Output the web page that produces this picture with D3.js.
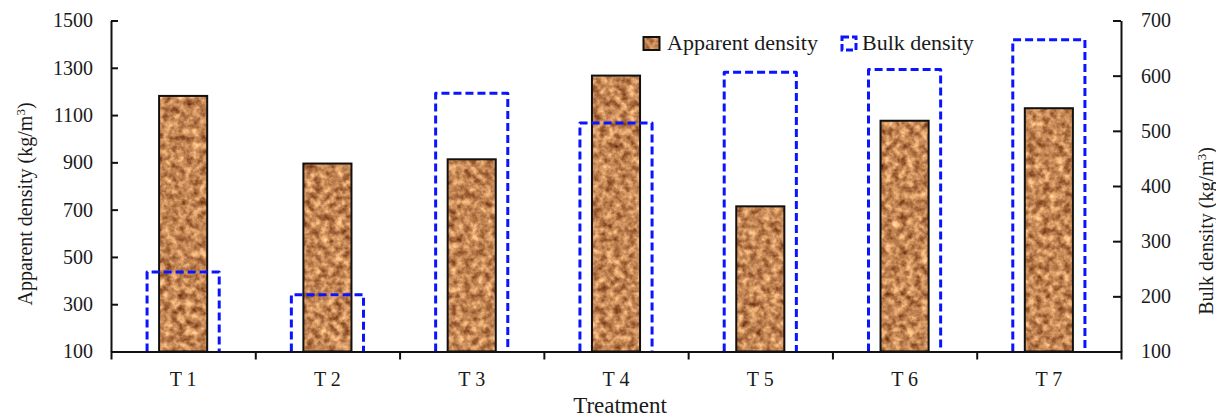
<!DOCTYPE html>
<html>
<head>
<meta charset="utf-8">
<script src="https://cdn.jsdelivr.net/npm/d3@7"></script>
<style>
  html, body { margin: 0; padding: 0; background: #fff; }
  svg { display: block; }
  text { font-family: "Liberation Serif", "Times New Roman", serif; fill: #1a1a1a; }
</style>
</head>
<body>
<svg id="chart" width="1216" height="417"></svg>
<script>
// ---- data ----
const categories = ["T 1", "T 2", "T 3", "T 4", "T 5", "T 6", "T 7"];
const apparentDensity = [1181, 895, 913, 1267, 714, 1076, 1129];
const bulkDensity = [244, 203, 568, 514, 606, 611, 665];
const leftTicks = [100, 300, 500, 700, 900, 1100, 1300, 1500];
const rightTicks = [100, 200, 300, 400, 500, 600, 700];
const seriesNames = ["Apparent density", "Bulk density"];

const svg = d3.select("#chart");
const pLeft = 111, pRight = 1121, pTop = 20.5, pBottom = 351.5;

const x = d3.scaleBand().domain(categories).range([pLeft, pRight]).paddingInner(0).paddingOuter(0);
const yL = d3.scaleLinear().domain([100, 1500]).range([pBottom, pTop]);
const yR = d3.scaleLinear().domain([100, 700]).range([pBottom, pTop]);

// texture filter
const defs = svg.append("defs");
const f = defs.append("filter").attr("id", "tex").attr("x", 0).attr("y", 0).attr("width", 1).attr("height", 1)
  .attr("color-interpolation-filters", "sRGB");
f.append("feTurbulence").attr("type", "fractalNoise").attr("baseFrequency", 0.14).attr("numOctaves", 3).attr("seed", 7).attr("result", "n");
f.append("feColorMatrix").attr("in", "n").attr("type", "matrix")
  .attr("values", "0.85 0 0 0 0.34  0.85 0 0 0 0.1  0.7 0 0 0 -0.02  0 0 0 0 1").attr("result", "c");
f.append("feComposite").attr("in", "c").attr("in2", "SourceGraphic").attr("operator", "in");

const barW = x.bandwidth() / 3;
const dashW = x.bandwidth() / 2;

// apparent density bars
const bars = svg.append("g");
bars.selectAll("rect.fill").data(apparentDensity).join("rect")
  .attr("class", "fill")
  .attr("x", (d, i) => x(categories[i]) + (x.bandwidth() - barW) / 2)
  .attr("y", d => yL(d))
  .attr("width", barW)
  .attr("height", d => yL(100) - yL(d))
  .attr("fill", "#c08558")
  .attr("filter", "url(#tex)");
bars.selectAll("rect.out").data(apparentDensity).join("rect")
  .attr("class", "out")
  .attr("x", (d, i) => x(categories[i]) + (x.bandwidth() - barW) / 2)
  .attr("y", d => yL(d))
  .attr("width", barW)
  .attr("height", d => yL(100) - yL(d))
  .attr("fill", "none")
  .attr("stroke", "#111")
  .attr("stroke-width", 2);

// bulk density dashed outlines
svg.append("g").selectAll("path").data(bulkDensity).join("path")
  .attr("d", (d, i) => {
    const x0 = x(categories[i]) + (x.bandwidth() - dashW) / 2;
    const x1 = x0 + dashW;
    const y0 = yR(100), y1 = yR(d);
    return `M${x0},${y0}V${y1}H${x1}V${y0}`;
  })
  .attr("fill", "none")
  .attr("stroke", "#0a14ff")
  .attr("stroke-width", 3)
  .attr("stroke-dasharray", "8,4")
  .attr("stroke-linejoin", "round");

// axes
const fmt = d3.format("d");
const axL = d3.axisLeft(yL).tickValues(leftTicks).tickFormat(fmt).tickSizeInner(-7).tickSizeOuter(0).tickPadding(18);
const gL = svg.append("g").attr("transform", `translate(${pLeft},0)`).call(axL);
const axR = d3.axisRight(yR).tickValues(rightTicks).tickFormat(fmt).tickSizeInner(-8).tickSizeOuter(0).tickPadding(20);
const gR = svg.append("g").attr("transform", `translate(${pRight},0)`).call(axR);
const boundaries = d3.range(categories.length + 1);
const xb = d3.scaleLinear().domain([0, categories.length]).range([pLeft, pRight]);
const axB = d3.axisBottom(xb).tickValues(boundaries).tickSizeInner(8).tickSizeOuter(0).tickFormat("");
const gB = svg.append("g").attr("transform", `translate(0,${pBottom})`).call(axB);

[gL, gR, gB].forEach(g => {
  g.attr("font-family", "Liberation Serif").attr("font-size", 20);
  g.selectAll("path.domain").attr("stroke", "#111").attr("stroke-width", 2);
  g.selectAll(".tick line").attr("stroke", "#111").attr("stroke-width", 2);
  g.selectAll(".tick text").style("font-size", "20px").style("font-family", "'Liberation Serif', serif").attr("fill", "#1a1a1a");
});

// category labels
svg.append("g").selectAll("text").data(categories).join("text")
  .attr("x", d => x(d) + x.bandwidth() / 2)
  .attr("y", 386)
  .attr("text-anchor", "middle")
  .style("font-size", "20px")
  .text(d => d);

// axis titles
svg.append("text").attr("x", 620).attr("y", 413).attr("text-anchor", "middle")
  .style("font-size", "23px").text("Treatment");

const tl = svg.append("text").attr("transform", "translate(32,204) rotate(-90)").attr("text-anchor", "middle").style("font-size", "20px");
tl.append("tspan").text("Apparent density (kg/m");
tl.append("tspan").attr("baseline-shift", "super").style("font-size", "13px").text("3");
tl.append("tspan").text(")");

const tr = svg.append("text").attr("transform", "translate(1213,231) rotate(-90)").attr("text-anchor", "middle").style("font-size", "20px");
tr.append("tspan").text("Bulk density (kg/m");
tr.append("tspan").attr("baseline-shift", "super").style("font-size", "13px").text("3");
tr.append("tspan").text(")");

// legend
const lg = svg.append("g");
lg.append("rect").attr("x", 643.5).attr("y", 37).attr("width", 16).attr("height", 13).attr("fill", "#c08558").attr("filter", "url(#tex)");
lg.append("rect").attr("x", 643.5).attr("y", 37).attr("width", 16).attr("height", 13).attr("fill", "none").attr("stroke", "#111").attr("stroke-width", 2);
lg.append("text").attr("x", 667).attr("y", 50).style("font-size", "22px").text(seriesNames[0]);
lg.append("rect").attr("x", 842).attr("y", 37).attr("width", 14).attr("height", 13).attr("fill", "none")
  .attr("stroke", "#0a14ff").attr("stroke-width", 3).attr("stroke-dasharray", "7,3");
lg.append("text").attr("x", 862).attr("y", 50).style("font-size", "22px").text(seriesNames[1]);
</script>
</body>
</html>
